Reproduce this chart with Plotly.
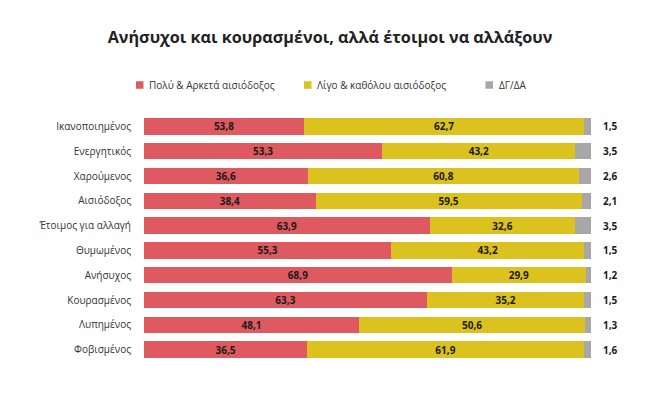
import plotly.graph_objects as go

categories = ["Ικανοποιημένος", "Ενεργητικός", "Χαρούμενος", "Αισιόδοξος",
              "Έτοιμος για αλλαγή", "Θυμωμένος", "Ανήσυχος", "Κουρασμένος",
              "Λυπημένος", "Φοβισμένος"]
# bar lengths as drawn (first row's drawn length is ~35.8 although labelled 53,8)
optimistic = [35.8, 53.3, 36.6, 38.4, 63.9, 55.3, 68.9, 63.3, 48.1, 36.5]
optimistic_labels = ["53,8", "53,3", "36,6", "38,4", "63,9", "55,3", "68,9", "63,3", "48,1", "36,5"]
pessimistic = [62.7, 43.2, 60.8, 59.5, 32.6, 43.2, 29.9, 35.2, 50.6, 61.9]
dkna = [1.5, 3.5, 2.6, 2.1, 3.5, 1.5, 1.2, 1.5, 1.3, 1.6]

series_names = ["Πολύ & Αρκετά αισιόδοξος", "Λίγο & καθόλου αισιόδοξος", "ΔΓ/ΔΑ"]
colors = ["#DE5A60", "#DBC21F", "#A7A7A7"]

W, H = 660, 397
L, R, T, B = 136, 77, 106, 43
PW, PH = W - L - R, H - T - B

def px_x(fx):
    return (fx - L) / PW

def px_y(fy):
    return (H - B - fy) / PH

def fmt(v):
    return f"{v:.1f}".replace(".", ",")

FONT = "Open Sans"

fig = go.Figure()
fig.add_trace(go.Bar(
    y=categories, x=optimistic, orientation="h", name=series_names[0],
    marker=dict(color=colors[0], line=dict(width=0)),
    text=optimistic_labels, textposition="inside", insidetextanchor="middle",
    textfont=dict(family=FONT, size=10, color="#1a1a1a", weight="bold"),
    textangle=0, hoverinfo="skip"))
fig.add_trace(go.Bar(
    y=categories, x=pessimistic, orientation="h", name=series_names[1],
    marker=dict(color=colors[1], line=dict(width=0)),
    text=[fmt(v) for v in pessimistic], textposition="inside", insidetextanchor="middle",
    textfont=dict(family=FONT, size=10, color="#1a1a1a", weight="bold"),
    textangle=0, hoverinfo="skip"))
fig.add_trace(go.Bar(
    y=categories, x=dkna, orientation="h", name=series_names[2],
    marker=dict(color=colors[2], line=dict(width=0)),
    textposition="none", hoverinfo="skip"))

for c, v in zip(categories, dkna):
    fig.add_annotation(x=1, xref="paper", y=c, yref="y", text=fmt(v),
                       showarrow=False, xanchor="left", xshift=10,
                       font=dict(family=FONT, size=10, color="#1a1a1a", weight="bold"))

# manual legend (small squares + labels)
legend_sq_x = [128, 296, 477.5]
legend_y = 77
for name, col, sx in zip(series_names, colors, legend_sq_x):
    fig.add_shape(type="rect", xref="paper", yref="paper",
                  x0=px_x(sx), x1=px_x(sx + 7.5),
                  y0=px_y(legend_y + 3.75), y1=px_y(legend_y - 3.75),
                  fillcolor=col, line=dict(width=0))
    fig.add_annotation(x=px_x(sx + 11), xref="paper", y=px_y(legend_y), yref="paper",
                       text=name, showarrow=False, xanchor="left", yanchor="middle",
                       font=dict(family=FONT, size=10, color="#333333"))

fig.update_layout(
    width=W, height=H,
    barmode="stack", bargap=0.34,
    paper_bgcolor="white", plot_bgcolor="white",
    margin=dict(l=L, r=R, t=T, b=B, autoexpand=False),
    uniformtext=dict(minsize=10, mode="show"),
    title=dict(text="Ανήσυχοι και κουρασμένοι, αλλά έτοιμοι να αλλάξουν",
               x=322 / W, xref="container", xanchor="center",
               y=1 - 29 / H, yref="container", yanchor="middle",
               font=dict(family=FONT, size=16.2, color="#222222", weight="bold")),
    showlegend=False,
)
fig.update_xaxes(range=[0, 100], visible=False, fixedrange=True)
fig.update_yaxes(autorange="reversed", showgrid=False, showline=False, ticks="",
                 ticklabelstandoff=12,
                 tickfont=dict(family=FONT, size=10, color="#333333"))

fig.write_html("out.html")
